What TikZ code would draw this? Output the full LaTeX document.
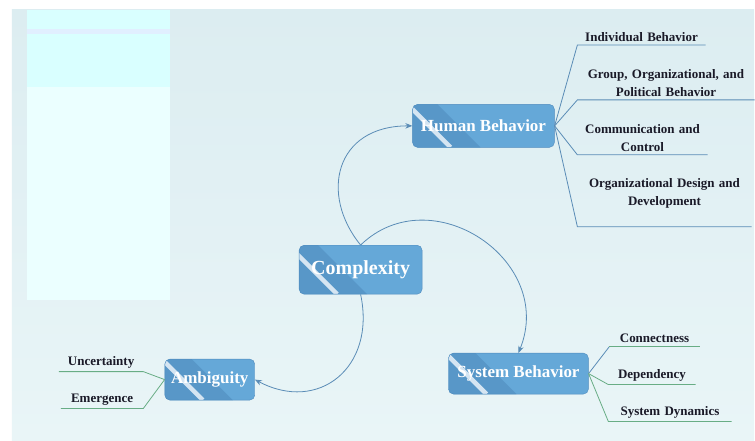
\documentclass[tikz,border=0pt]{standalone}
\usepackage{fontspec}
\setmainfont{Liberation Serif}
\usepackage{xcolor}
\usetikzlibrary{arrows.meta}

\definecolor{bgtop}{HTML}{DCEDF1}
\definecolor{bgbot}{HTML}{E9F5F7}
\definecolor{panelcyan}{HTML}{D9FFFF}
\definecolor{panelband}{HTML}{E1EFFF}
\definecolor{panellight}{HTML}{EBFFFF}
\definecolor{topicfill}{HTML}{65A8D8}
\definecolor{topicdark}{HTML}{5897C8}
\definecolor{topicline}{HTML}{4F8BBE}
\definecolor{stripe}{HTML}{D5E5F2}
\definecolor{linkblue}{HTML}{5A8CB6}
\definecolor{linkgreen}{HTML}{68AD85}
\definecolor{leaftext}{HTML}{1A1A28}

\begin{document}
\begin{tikzpicture}[
      x=1pt, y=1pt,
      topic/.style={
        draw=topicline,
        fill=topicfill,
        rounded corners=5pt,
        text=white,
        inner sep=0pt,
        font=\bfseries\fontsize{17}{20}\selectfont,
        path picture={
          \fill[topicdark, sharp corners] (path picture bounding box.south west)
            ++(-40pt,0pt) -- ++(108pt,0pt) -- ++(-100pt,100pt) -- ++(-40pt,0pt) -- cycle;
          \draw[stripe, line width=4.5pt, sharp corners] (path picture bounding box.south west)
            ++(38pt,0pt) -- ++(-70pt,70pt);
        }
      },
      leaf/.style={
        font=\bfseries\fontsize{13}{18}\selectfont,
        text=leaftext,
        align=center,
        anchor=south west,
        inner xsep=0pt,
        inner ysep=3.5pt
      },
      link/.style={
        draw=linkblue,
        line width=0.8pt,
        -{Stealth[length=7pt,width=5.5pt]}
      },
      twig/.style={draw=linkblue, line width=0.8pt},
      twiggreen/.style={draw=linkgreen, line width=0.8pt}
    ]

    % backdrop and side panel
    \fill[white] (0,0) rectangle (755,441);
    \shade[top color=bgtop, bottom color=bgbot] (12,0) rectangle (755,431);
    \fill[panellight] (27,141) rectangle (170,354);
    \fill[panelcyan] (27,354) rectangle (170,407);
    \fill[panelband] (27,407) rectangle (170,412);
    \fill[panelcyan] (27,412) rectangle (170,431);

    \node[topic, minimum width=123pt, minimum height=49pt,
      font=\bfseries\fontsize{20}{24}\selectfont] (complexity) at (361,171) {Complexity};
    \node[topic, minimum width=142pt, minimum height=43pt] (human) at (484,315) {Human Behavior};
    \node[topic, minimum width=140pt, minimum height=41pt] (system) at (519,67) {System Behavior};
    \node[topic, minimum width=90pt, minimum height=41pt] (ambiguity) at (210,61) {Ambiguity};

    \draw[link] (complexity.north) .. controls +(-41,50) and +(-78,0) .. (human.west);
    \draw[link] (complexity.north) .. controls +(44:98pt) and +(68:100pt) .. (system.north);
    \draw[link] (complexity.south) .. controls +(-78:75pt) and +(-28:72pt) .. (ambiguity.east);

    % human behavior leaves
    \node[leaf, text width=128pt] (individual) at (578,396) {Individual Behavior};
    \node[leaf, text width=177pt] (group) at (578,341) {Group, Organizational, and\\Political Behavior};
    \node[leaf, text width=130pt] (communication) at (578,286) {Communication and\\Control};
    \node[leaf, text width=174pt, inner ysep=18.5pt] (orgdesign) at (578,214) {Organizational Design and\\Development};

    \foreach \leafname in {individual, group, communication, orgdesign}
      \draw[twig] (human.east) -- (\leafname.south west) -- (\leafname.south east);

    % system behavior leaves
    \node[leaf, text width=90pt] (connectness) at (610,94) {Connectness};
    \node[leaf, text width=87pt] (dependency) at (609,56) {Dependency};
    \node[leaf, text width=123pt] (dynamics) at (609,19) {System Dynamics};

    \draw[twig] (system.east) -- (connectness.south west);
    \draw[twiggreen] (connectness.south west) -- (connectness.south east);
    \draw[twiggreen] (system.east) -- (dependency.south west) -- (dependency.south east);
    \draw[twiggreen] (system.east) -- (dynamics.south west) -- (dynamics.south east);

    % ambiguity leaves
    \node[leaf, text width=84pt] (uncertainty) at (59,69) {Uncertainty};
    \node[leaf, text width=82pt] (emergence) at (61,32) {Emergence};

    \draw[twiggreen] (ambiguity.west) -- (uncertainty.south east) -- (uncertainty.south west);
    \draw[twiggreen] (ambiguity.west) -- (emergence.south east) -- (emergence.south west);

    \end{tikzpicture}
\end{document}
